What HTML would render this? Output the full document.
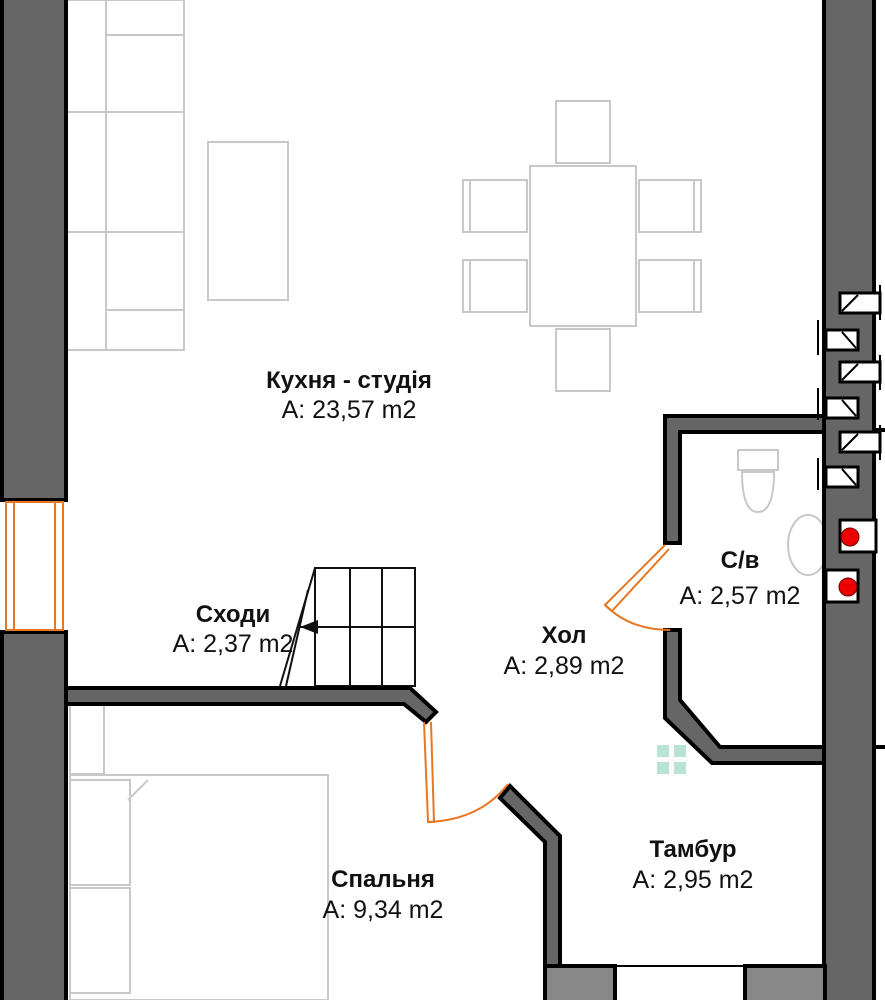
<!DOCTYPE html>
<html><head><meta charset="utf-8"><style>
html,body{margin:0;padding:0;background:#fff;}
svg{display:block}
text{font-family:"Liberation Sans",sans-serif;fill:#111;}
.b{font-weight:bold;font-size:24px;}
.r{font-size:25px;}
</style></head><body>
<svg width="885" height="1000" viewBox="0 0 885 1000" xmlns="http://www.w3.org/2000/svg">
<g fill="none" stroke="#c8c8c8" stroke-width="2">
<rect x="66" y="0" width="118" height="350"/>
<rect x="106" y="0" width="78" height="350"/>
<line x1="106" y1="35" x2="184" y2="35"/>
<line x1="66" y1="112" x2="184" y2="112"/>
<line x1="66" y1="232" x2="184" y2="232"/>
<line x1="106" y1="310" x2="184" y2="310"/>
<rect x="208" y="142" width="80" height="158"/>
<rect x="530" y="166" width="106" height="160"/>
<rect x="556" y="101" width="54" height="62"/>
<rect x="556" y="329" width="54" height="62"/>
<rect x="463" y="180" width="64" height="52"/><line x1="470" y1="180" x2="470" y2="232"/>
<rect x="463" y="260" width="64" height="52"/><line x1="470" y1="260" x2="470" y2="312"/>
<rect x="639" y="180" width="62" height="52"/><line x1="694" y1="180" x2="694" y2="232"/>
<rect x="639" y="260" width="62" height="52"/><line x1="694" y1="260" x2="694" y2="312"/>
<rect x="70" y="775" width="258" height="225"/>
<rect x="70" y="780" width="60" height="105"/>
<rect x="70" y="888" width="60" height="105"/>
<line x1="128" y1="800" x2="148" y2="780"/>
<rect x="70" y="704" width="34" height="70"/>
<path d="M738 450 h40 v20 h-40z M742 472 h32 q0 40 -16 40 q-16 0 -16 -40z"/>
<ellipse cx="808" cy="545" rx="20" ry="30"/>
</g>
<g fill="none" stroke="#111" stroke-width="2">
<rect x="315" y="568" width="100" height="118"/>
<line x1="350" y1="568" x2="350" y2="686"/>
<line x1="382" y1="568" x2="382" y2="686"/>
<line x1="315" y1="627" x2="415" y2="627"/>
<line x1="315" y1="568" x2="280" y2="686"/>
<line x1="308" y1="590" x2="286" y2="686"/>
<line x1="330" y1="627" x2="300" y2="627"/>
</g>
<polygon points="300,627 318,620 318,634" fill="#111"/>
<g fill="#666" stroke="#000" stroke-width="4" stroke-linejoin="miter">
<rect x="2" y="-5" width="64" height="505"/>
<rect x="2" y="632" width="64" height="380"/>
<rect x="824" y="-5" width="50" height="1015"/>
<polygon points="66,688 410,688 436,712 426,722 404,704 66,704"/>
<polygon points="665,416 824,416 824,432 680,432 680,543 665,543"/>
<polygon points="665,630 680,630 680,700 720,747 824,747 824,763 712,763 665,718"/>
<polygon points="510,786 560,836 560,1010 545,1010 545,842 500,798"/>
<rect x="545" y="966" width="70" height="40" fill="#888"/>
<rect x="745" y="966" width="80" height="40" fill="#888"/>
<line x1="874" y1="430" x2="885" y2="430"/>
<line x1="874" y1="747" x2="885" y2="747"/>
</g>
<line x1="615" y1="966" x2="745" y2="966" stroke="#000" stroke-width="2"/>
<g fill="#fff" stroke="#000" stroke-width="3">
<rect x="840" y="293" width="40" height="20"/><rect x="826" y="330" width="32" height="20"/>
<rect x="840" y="362" width="40" height="20"/><rect x="826" y="398" width="32" height="20"/>
<rect x="840" y="432" width="40" height="20"/><rect x="826" y="467" width="32" height="20"/>
<rect x="840" y="520" width="36" height="32"/><rect x="826" y="570" width="32" height="32"/>
</g>
<g stroke="#000" stroke-width="2">
<line x1="842" y1="311" x2="858" y2="295"/><line x1="842" y1="332" x2="856" y2="348"/>
<line x1="842" y1="380" x2="858" y2="364"/><line x1="842" y1="400" x2="856" y2="416"/>
<line x1="842" y1="450" x2="858" y2="434"/><line x1="842" y1="469" x2="856" y2="485"/>
<line x1="818" y1="320" x2="818" y2="355"/><line x1="818" y1="388" x2="818" y2="420"/>
<line x1="818" y1="458" x2="818" y2="490"/><line x1="880" y1="285" x2="880" y2="320"/>
<line x1="880" y1="355" x2="880" y2="390"/><line x1="880" y1="425" x2="880" y2="460"/>
</g>
<circle cx="850" cy="537" r="9" fill="#e00" stroke="#600"/>
<circle cx="848" cy="587" r="9" fill="#e00" stroke="#600"/>
<g fill="none" stroke="#e87722" stroke-width="2">
<rect x="6" y="502" width="8" height="128"/><rect x="55" y="502" width="8" height="128"/>
<line x1="14" y1="502" x2="55" y2="502"/><line x1="14" y1="630" x2="55" y2="630"/>
<path d="M665 545 L605 605 L612 611 L669 549"/>
<path d="M605 605 Q630 630 670 630"/>
<path d="M424 722 L428 822 L434 822 L431 722"/>
<path d="M428 822 Q480 820 508 784"/>
</g>
<g fill="#b9e3d3">
<rect x="657" y="745" width="12" height="12"/><rect x="674" y="745" width="12" height="12"/>
<rect x="657" y="762" width="12" height="12"/><rect x="674" y="762" width="12" height="12"/>
</g>
<text class="b" x="349" y="388" text-anchor="middle">Кухня - студія</text>
<text class="r" x="349" y="418" text-anchor="middle">A: 23,57 m2</text>
<text class="b" x="233" y="622" text-anchor="middle">Сходи</text>
<text class="r" x="233" y="652" text-anchor="middle">A: 2,37 m2</text>
<text class="b" x="564" y="643" text-anchor="middle">Хол</text>
<text class="r" x="564" y="674" text-anchor="middle">A: 2,89 m2</text>
<text class="b" x="740" y="568" text-anchor="middle">С/в</text>
<text class="r" x="740" y="604" text-anchor="middle">A: 2,57 m2</text>
<text class="b" x="693" y="857" text-anchor="middle">Тамбур</text>
<text class="r" x="693" y="888" text-anchor="middle">A: 2,95 m2</text>
<text class="b" x="383" y="887" text-anchor="middle">Спальня</text>
<text class="r" x="383" y="918" text-anchor="middle">A: 9,34 m2</text>
</svg>
</body></html>
